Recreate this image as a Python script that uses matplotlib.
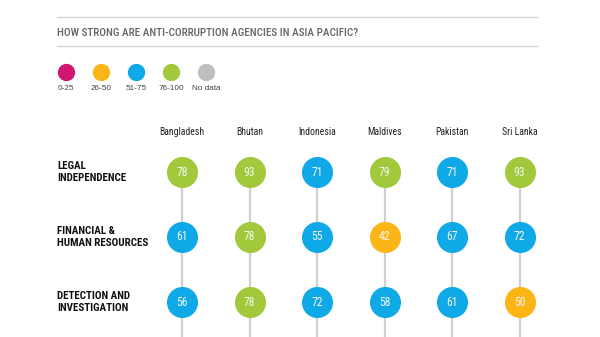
import matplotlib
matplotlib.use('Agg')
import matplotlib.pyplot as plt
import numpy as np

plt.rcParams['font.family'] = ['Roboto Condensed', 'DejaVu Sans']

TITLE = 'HOW STRONG ARE ANTI-CORRUPTION AGENCIES IN ASIA PACIFIC?'
COUNTRIES = ['Bangladesh', 'Bhutan', 'Indonesia', 'Maldives', 'Pakistan', 'Sri Lanka']
ROWS = ['LEGAL\nINDEPENDENCE', 'FINANCIAL &\nHUMAN RESOURCES', 'DETECTION AND\nINVESTIGATION']
SCORES = [
    [78, 93, 71, 79, 71, 93],
    [61, 78, 55, 42, 67, 72],
    [56, 78, 72, 58, 61, 50],
]
BANDS = ['0-25', '26-50', '51-75', '76-100', 'No data']
BAND_COLORS = ['#d0176f', '#fbb517', '#0ea9e6', '#a2c83b', '#bfbfbf']

def band_color(v):
    if v is None:
        return BAND_COLORS[4]
    if v <= 25:
        return BAND_COLORS[0]
    if v <= 50:
        return BAND_COLORS[1]
    if v <= 75:
        return BAND_COLORS[2]
    return BAND_COLORS[3]

fig = plt.figure(figsize=(6, 3.37), dpi=100)
ax = fig.add_axes([0, 0, 1, 1])
ax.set_xlim(0, 600)
ax.set_ylim(337, 0)
ax.axis('off')

# header rules + title
ax.plot([57, 537], [17, 17], color='#d4d4d4', lw=1)
ax.plot([57, 537], [46, 46], color='#d4d4d4', lw=1)
ax.text(57, 33, TITLE, fontsize=8.05, fontweight=500, color='#666666', va='center', ha='left')

# legend
for i, (lab, c) in enumerate(zip(BANDS, BAND_COLORS)):
    lx = 66 + i * 35
    ax.scatter([lx], [72], s=155, color=c, linewidths=0, zorder=3)
    ax.text(lx, 89, lab, fontsize=5.9, color='#444444', ha='center', va='center',
            family=['Liberation Sans', 'DejaVu Sans'])

# grid of scores
col_x = 182 + np.arange(len(COUNTRIES)) * 67.5
row_y = 172 + np.arange(len(ROWS)) * 65

for j, name in enumerate(COUNTRIES):
    ax.text(col_x[j], 132, name, fontsize=7, color='#222222', ha='center', va='center')
    ax.plot([col_x[j], col_x[j]], [row_y[0], 340], color='#d0d0d0', lw=1.6, zorder=1)

for i, lab in enumerate(ROWS):
    ax.text(57, row_y[i], lab, fontsize=7.9, fontweight='bold', color='#111111',
            ha='left', va='center', linespacing=1.15)
    for j in range(len(COUNTRIES)):
        v = SCORES[i][j]
        ax.scatter([col_x[j]], [row_y[i]], s=500, color=band_color(v), linewidths=0, zorder=3)
        ax.text(col_x[j], row_y[i], str(v), fontsize=8.4, color='#f6f6f6',
                ha='center', va='center', zorder=4)

fig.savefig('out.png', dpi=100)
